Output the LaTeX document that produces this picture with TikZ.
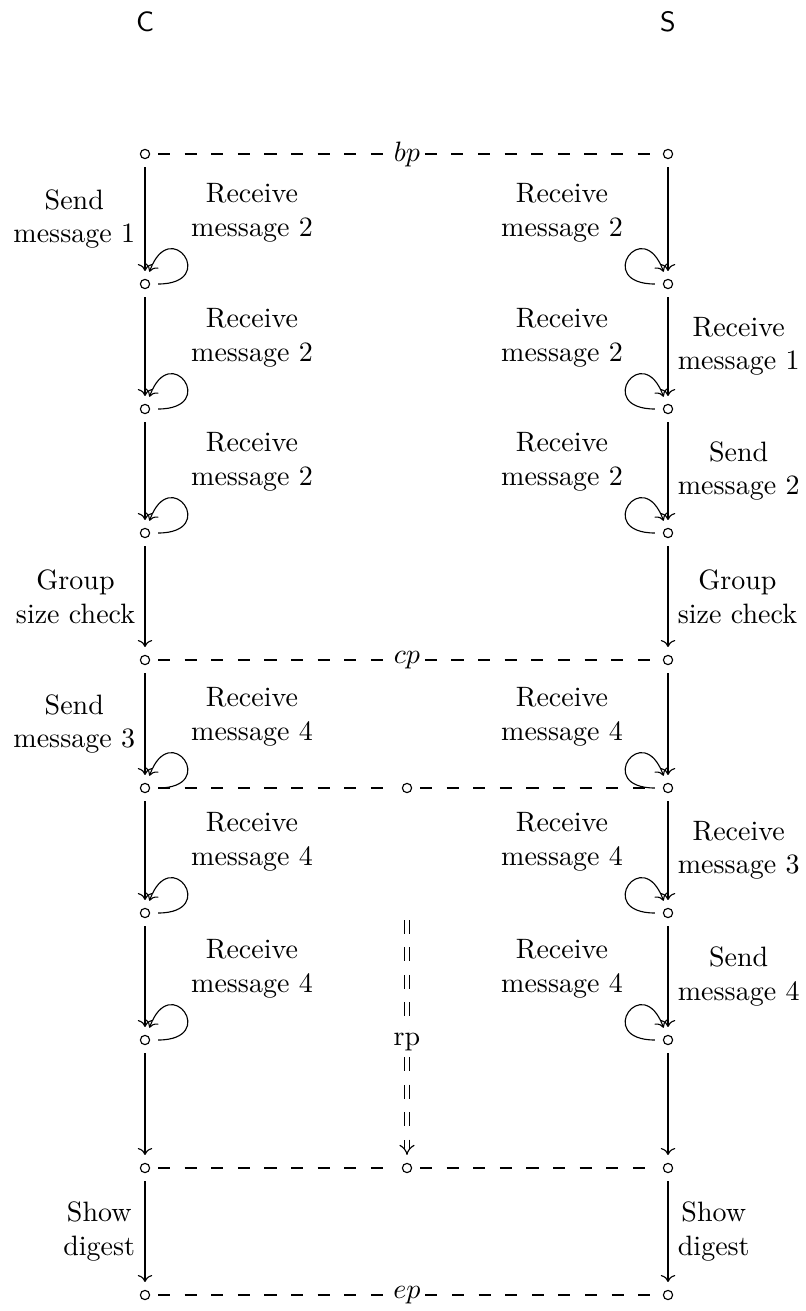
\documentclass[tikz,border=0pt]{standalone}
\usetikzlibrary{arrows.meta}
\begin{document}
\begin{tikzpicture}[x=0.357pt, y=-0.357pt,
  st/.style={circle, draw, thin, minimum size=3.3pt, inner sep=0pt, outer sep=3pt},
  flow/.style={->, thin},
  sync/.style={thin, dash pattern=on 4.3pt off 5.2pt},
  selfR/.style={->, thin, out=0, in=70, looseness=10.5},
  selfL/.style={->, thin, out=180, in=110, looseness=10.5},
  lbl/.style={align=center},
  tag/.style={inner sep=1.5pt},
  side/.style={font=\sffamily}]
\useasboundingbox (0,0) rectangle (806,1311);

% party headers
\node[side] (C) at (145,22) {C};
\node[side] (S) at (668,22) {S};

% states of both parties
\foreach \i/\y in {1/154,2/284,3/409,4/533,5/660,6/788,7/913,8/1040,9/1168,10/1295}{
  \node[st] (c\i) at (145,\y) {};
  \node[st] (s\i) at (668,\y) {};
}
\node[st] (m6) at (407,788) {};
\node[st] (m9) at (407,1168) {};

% synchronisation points
\node[tag] (bp) at (407,154) {$bp$};
\node[tag] (cp) at (407,660) {$cp$};
\node[tag] (ep) at (407,1295) {$ep$};
\draw[sync] (c1) -- (bp) -- (s1);
\draw[sync] (c5) -- (cp) -- (s5);
\draw[sync] (c6) -- (m6) -- (s6);
\draw[sync] (c9) -- (m9) -- (s9);
\draw[sync] (c10) -- (ep) -- (s10);

% client steps
\draw[flow] (c1) -- node[left, lbl] {Send\\message 1} (c2);
\draw[flow] (c2) -- (c3);
\draw[flow] (c3) -- (c4);
\draw[flow] (c4) -- node[left, lbl] {Group\\size check} (c5);
\draw[flow] (c5) -- node[left, lbl] {Send\\message 3} (c6);
\draw[flow] (c6) -- (c7);
\draw[flow] (c7) -- (c8);
\draw[flow] (c8) -- (c9);
\draw[flow] (c9) -- node[left, lbl] {Show\\digest} (c10);

% server steps
\draw[flow] (s1) -- (s2);
\draw[flow] (s2) -- node[right, lbl] {Receive\\message 1} (s3);
\draw[flow] (s3) -- node[right, lbl] {Send\\message 2} (s4);
\draw[flow] (s4) -- node[right, lbl] {Group\\size check} (s5);
\draw[flow] (s5) -- (s6);
\draw[flow] (s6) -- node[right, lbl] {Receive\\message 3} (s7);
\draw[flow] (s7) -- node[right, lbl] {Send\\message 4} (s8);
\draw[flow] (s8) -- (s9);
\draw[flow] (s9) -- node[right, lbl] {Show\\digest} (s10);

% self loops
\foreach \i in {2,3,4,6,7,8}{
  \draw[selfR] (c\i) to (c\i);
  \draw[selfL] (s\i) to (s\i);
}

% loop labels
\foreach \i/\y/\n in {2/213/2,3/338/2,4/462/2,6/717/4,7/842/4,8/969/4}{
  \node[lbl] (lc\i) at (252,\y) {Receive\\message \n};
  \node[lbl] (ls\i) at (562,\y) {Receive\\message \n};
}

% recovery point
\coordinate (rpstart) at (407,920);
\draw[thin, double, double distance=1.5pt, dash pattern=on 5pt off 4.8pt, -{Implies}]
  (rpstart) -- node[fill=white, inner sep=1pt, pos=0.52] (rp) {rp} (m9);
\end{tikzpicture}
\end{document}
